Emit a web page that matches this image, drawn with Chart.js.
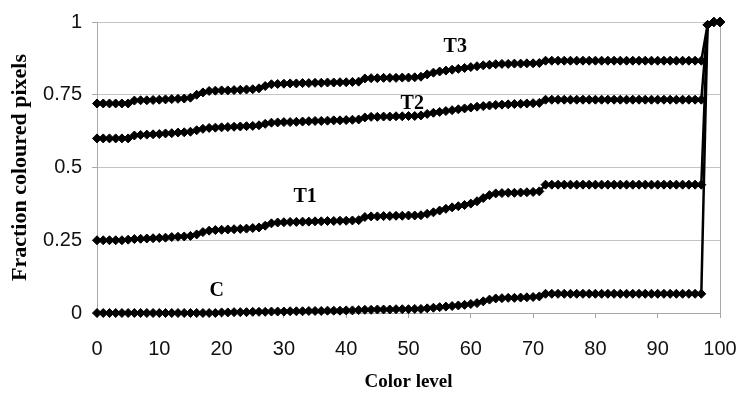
<!DOCTYPE html>
<html><head><meta charset="utf-8">
<script src="https://cdn.jsdelivr.net/npm/chart.js@4.4.0/dist/chart.umd.min.js"></script>
<style>html,body{margin:0;padding:0;background:#fff;}#wrap{width:750px;height:404px;}</style>
</head><body><div id="wrap"><canvas id="c" width="750" height="404"></canvas></div>
<script>
const levels = [0,1,2,3,4,5,6,7,8,9,10,11,12,13,14,15,16,17,18,19,20,21,22,23,24,25,26,27,28,29,30,31,32,33,34,35,36,37,38,39,40,41,42,43,44,45,46,47,48,49,50,51,52,53,54,55,56,57,58,59,60,61,62,63,64,65,66,67,68,69,70,71,72,73,74,75,76,77,78,79,80,81,82,83,84,85,86,87,88,89,90,91,92,93,94,95,96,97,98,99,100];

const valuesT3 = [0.720,0.720,0.720,0.720,0.720,0.720,0.730,0.731,0.731,0.732,0.733,0.734,0.735,0.736,0.737,0.740,0.750,0.758,0.763,0.764,0.765,0.765,0.766,0.767,0.768,0.769,0.772,0.780,0.786,0.787,0.788,0.789,0.789,0.790,0.790,0.791,0.791,0.792,0.792,0.793,0.793,0.794,0.795,0.806,0.807,0.807,0.808,0.808,0.808,0.809,0.809,0.810,0.812,0.820,0.826,0.830,0.833,0.836,0.839,0.842,0.845,0.848,0.851,0.853,0.855,0.856,0.856,0.857,0.857,0.858,0.858,0.859,0.867,0.867,0.867,0.867,0.867,0.867,0.867,0.867,0.867,0.867,0.867,0.867,0.867,0.867,0.867,0.867,0.867,0.867,0.867,0.867,0.867,0.867,0.867,0.867,0.867,0.867,0.990,1.000,1.000];

const valuesT2 = [0.600,0.600,0.600,0.600,0.600,0.600,0.610,0.612,0.613,0.614,0.615,0.617,0.618,0.620,0.621,0.623,0.628,0.633,0.636,0.637,0.638,0.639,0.640,0.641,0.642,0.643,0.645,0.650,0.654,0.655,0.656,0.656,0.657,0.658,0.659,0.660,0.660,0.661,0.662,0.662,0.663,0.664,0.665,0.672,0.674,0.674,0.675,0.675,0.676,0.676,0.677,0.677,0.679,0.684,0.688,0.691,0.694,0.697,0.700,0.703,0.706,0.709,0.711,0.713,0.715,0.716,0.717,0.718,0.719,0.720,0.721,0.722,0.733,0.733,0.733,0.733,0.733,0.733,0.733,0.733,0.733,0.733,0.733,0.733,0.733,0.733,0.733,0.733,0.733,0.733,0.733,0.733,0.733,0.733,0.733,0.733,0.733,0.733,0.990,1.000,1.000];

const valuesT1 = [0.250,0.250,0.250,0.250,0.250,0.252,0.254,0.255,0.256,0.257,0.258,0.259,0.261,0.262,0.263,0.265,0.270,0.278,0.283,0.285,0.286,0.287,0.288,0.289,0.290,0.292,0.294,0.300,0.308,0.311,0.312,0.313,0.313,0.314,0.314,0.315,0.315,0.316,0.316,0.317,0.317,0.318,0.319,0.330,0.332,0.332,0.333,0.333,0.334,0.334,0.335,0.335,0.336,0.341,0.346,0.352,0.358,0.363,0.367,0.371,0.376,0.384,0.395,0.405,0.411,0.412,0.413,0.413,0.414,0.415,0.416,0.418,0.441,0.441,0.441,0.441,0.441,0.441,0.441,0.441,0.441,0.441,0.441,0.441,0.441,0.441,0.441,0.441,0.441,0.441,0.441,0.441,0.441,0.441,0.441,0.441,0.441,0.441,0.990,1.000,1.000];

const valuesC = [0.000,0.000,0.000,0.000,0.000,0.000,0.000,0.000,0.000,0.000,0.000,0.000,0.000,0.000,0.000,0.000,0.000,0.000,0.000,0.000,0.002,0.002,0.003,0.003,0.003,0.004,0.004,0.004,0.005,0.005,0.005,0.006,0.006,0.006,0.007,0.007,0.007,0.008,0.008,0.008,0.009,0.009,0.010,0.011,0.011,0.012,0.012,0.012,0.013,0.013,0.013,0.014,0.014,0.016,0.018,0.020,0.022,0.024,0.026,0.028,0.031,0.034,0.040,0.046,0.050,0.051,0.052,0.052,0.053,0.054,0.055,0.057,0.066,0.066,0.066,0.066,0.066,0.066,0.066,0.066,0.066,0.066,0.066,0.066,0.066,0.066,0.066,0.066,0.066,0.066,0.066,0.066,0.066,0.066,0.066,0.066,0.066,0.066,0.990,1.000,1.000];

const seriesNames = ['T3','T2','T1','C'];
const xTicks = [0,10,20,30,40,50,60,70,80,90,100];
const yTicks = [0,0.25,0.5,0.75,1];
const labelNames = ['T3','T2','T1','C'];
const labelLevels = [57.5,50.6,33.4,19.2];
const labelValues = [0.913,0.72,0.398,0.077];

const allValues = [valuesT3, valuesT2, valuesT1, valuesC];

const GRID = '#c4c4c4';
const AXIS = '#a8a8a8';

const annotPlugin = {
  id: 'annot',
  beforeDatasetsDraw(chart) {
    const {ctx, chartArea} = chart;
    ctx.save();
    ctx.strokeStyle = AXIS;
    ctx.lineWidth = 1;
    ctx.beginPath();
    ctx.moveTo(Math.round(chartArea.right) + 0.5, chartArea.top);
    ctx.lineTo(Math.round(chartArea.right) + 0.5, chartArea.bottom + 5);
    ctx.stroke();
    ctx.restore();
  },
  afterDatasetsDraw(chart) {
    const {ctx, scales} = chart;
    ctx.save();
    ctx.font = 'bold 20px "Liberation Serif", "Times New Roman", serif';
    ctx.fillStyle = '#000';
    ctx.textAlign = 'center';
    ctx.textBaseline = 'middle';
    labelNames.forEach((t, i) => {
      ctx.fillText(t, scales.x.getPixelForValue(labelLevels[i]), scales.y.getPixelForValue(labelValues[i]));
    });
    ctx.restore();
  }
};

const datasets = allValues.map((vals, si) => ({
  label: seriesNames[si],
  data: levels.map((l, i) => ({x: l, y: vals[i]})),
  borderColor: '#000',
  backgroundColor: '#000',
  borderWidth: 2.5,
  pointStyle: 'rectRot',
  pointRadius: 4.5,
  pointBorderWidth: 1,
  pointBorderColor: '#000',
  pointBackgroundColor: '#000',
  tension: 0,
  clip: false
}));

new Chart(document.getElementById('c'), {
  type: 'line',
  data: { datasets },
  options: {
    responsive: false,
    animation: false,
    devicePixelRatio: 1,
    layout: { padding: { top: 20, right: 30, bottom: 0, left: 0 } },
    plugins: { legend: { display: false }, tooltip: { enabled: false } },
    scales: {
      x: {
        type: 'linear', min: 0, max: 100,
        afterBuildTicks: (s) => { s.ticks = xTicks.map(v => ({value: v})); },
        afterFit: (s) => { s.height = 91; s.paddingRight = 0; s.paddingLeft = 0; },
        grid: { drawOnChartArea: false, drawTicks: true, tickLength: 5, color: AXIS },
        border: { display: true, color: AXIS },
        ticks: { color: '#111', padding: 19, maxRotation: 0, autoSkip: false,
          font: { family: '"Liberation Sans", Arial, sans-serif', size: 20 },
          callback: (v) => String(v) },
        title: { display: true, text: 'Color level', color: '#000',
          font: { family: '"Liberation Serif", "Times New Roman", serif', size: 19, weight: 'bold' },
          padding: { top: 0, bottom: 11 } }
      },
      y: {
        type: 'linear', min: 0, max: 1,
        afterBuildTicks: (s) => { s.ticks = yTicks.map(v => ({value: v})); },
        afterFit: (s) => { s.width = 97; },
        grid: { drawTicks: true, tickLength: 5, color: GRID, tickColor: AXIS },
        border: { display: true, color: AXIS },
        ticks: { color: '#111', padding: 10,
          font: { family: '"Liberation Sans", Arial, sans-serif', size: 20 },
          callback: (v) => String(v) },
        title: { display: true, text: 'Fraction coloured pixels', color: '#000',
          font: { family: '"Liberation Serif", "Times New Roman", serif', size: 22, weight: 'bold' },
          padding: { top: 7, bottom: 0 } }
      }
    }
  },
  plugins: [annotPlugin]
});
</script>
</body></html>
